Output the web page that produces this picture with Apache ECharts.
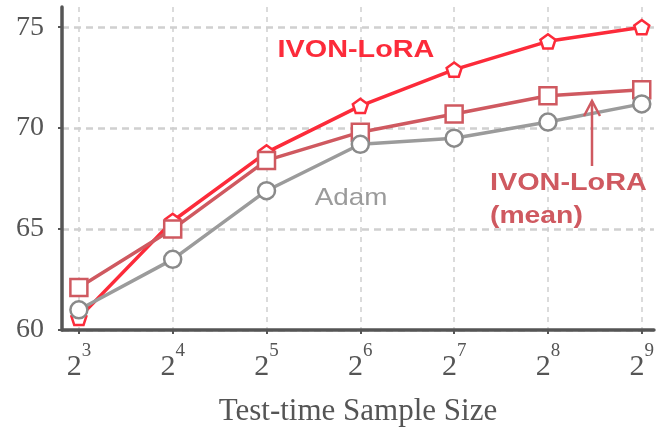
<!DOCTYPE html>
<html>
<head>
<meta charset="utf-8">
<script src="https://cdn.jsdelivr.net/npm/echarts@6/dist/echarts.min.js"></script>
<style>
html,body{margin:0;padding:0;background:#fff;}
#chart{width:657px;height:432px;}
</style>
</head>
<body>
<div id="chart"></div>
<script>
// exponents of 2 for test-time sample size
var exponents = [3, 4, 5, 6, 7, 8, 9];
var ivonLora = [60.6, 65.4, 68.8, 71.1, 72.9, 74.3, 75.0];
var ivonLoraMean = [62.1, 65.0, 68.4, 69.8, 70.7, 71.6, 71.9];
var adam = [61.0, 63.5, 66.9, 69.2, 69.5, 70.3, 71.2];
var yTicks = [60, 65, 70, 75];

function pairs(ys) { return exponents.map(function (e, i) { return [e, ys[i]]; }); }

var RED = '#fc2b3a';
var MEAN = '#cf5960';
var GRAY = '#9b9b9b';
var pentagon = 'path://M0,-10 L9.51,-3.09 L5.88,8.09 L-5.88,8.09 L-9.51,-3.09 Z';

var chart = echarts.init(document.getElementById('chart'), null, {renderer: 'canvas'});
chart.setOption({
  animation: false,
  backgroundColor: '#fff',
  grid: {left: 62, right: 2, top: 7, bottom: 100, containLabel: false},
  xAxis: {
    type: 'value',
    min: 2.82, max: 9.13,
    name: 'Test-time Sample Size',
    nameLocation: 'middle',
    nameGap: 66,
    nameTextStyle: {fontFamily: 'Liberation Serif', fontSize: 31, color: '#555'},
    axisLine: {show: true, onZero: false, lineStyle: {color: '#555', width: 3.5}},
    axisTick: {show: true, customValues: exponents, length: 4, inside: false, lineStyle: {color: '#555', width: 2}},
    axisLabel: {
      customValues: exponents,
      margin: 12,
      formatter: function (v) { return '{b|2}{s|' + v + '}'; },
      rich: {
        b: {fontFamily: 'Liberation Serif', fontSize: 30, color: '#555', lineHeight: 40, verticalAlign: 'bottom'},
        s: {fontFamily: 'Liberation Serif', fontSize: 19, color: '#555', lineHeight: 20, verticalAlign: 'top'}
      }
    },
    splitLine: {show: true, lineStyle: {color: '#d0d0d0', width: 1.5, type: [5, 5]}}
  },
  yAxis: {
    type: 'value',
    min: 60, max: 76, interval: 5,
    axisLine: {show: true, lineStyle: {color: '#555', width: 3.5}},
    axisTick: {show: true, customValues: yTicks, length: 4, lineStyle: {color: '#555', width: 2}},
    axisLabel: {customValues: yTicks, margin: 18, fontFamily: 'Liberation Serif', fontSize: 28, color: '#555'},
    splitLine: {show: true, lineStyle: {color: '#d0d0d0', width: 2.5, type: [7, 5]}}
  },
  series: [
    {
      name: 'IVON-LoRA', type: 'line', data: pairs(ivonLora),
      lineStyle: {color: RED, width: 3.5}, symbol: pentagon, symbolKeepAspect: true, symbolSize: 15,
      itemStyle: {color: '#fff', borderColor: RED, borderWidth: 2.5}, z: 2
    },
    {
      name: 'IVON-LoRA (mean)', type: 'line', data: pairs(ivonLoraMean),
      lineStyle: {color: MEAN, width: 3.5}, symbol: 'rect', symbolSize: 17,
      itemStyle: {color: '#fff', borderColor: MEAN, borderWidth: 2.5}, z: 3
    },
    {
      name: 'Adam', type: 'line', data: pairs(adam),
      lineStyle: {color: GRAY, width: 3.5}, symbol: 'circle', symbolSize: 17,
      itemStyle: {color: '#fff', borderColor: '#8a8a8a', borderWidth: 2.5}, z: 4
    }
  ],
  graphic: [
    {type: 'text', x: 356, y: 50, scaleX: 1.2, z: 10,
      style: {text: 'IVON-LoRA', fontFamily: 'Liberation Sans', fontWeight: 'bold', fontSize: 24, fill: RED, align: 'center', verticalAlign: 'middle'}},
    {type: 'text', x: 351, y: 198, scaleX: 1.16, z: 10,
      style: {text: 'Adam', fontFamily: 'Liberation Sans', fontSize: 24, fill: GRAY, align: 'center', verticalAlign: 'middle'}},
    {type: 'text', x: 490, y: 183, scaleX: 1.2, z: 10,
      style: {text: 'IVON-LoRA', fontFamily: 'Liberation Sans', fontWeight: 'bold', fontSize: 24, fill: MEAN, align: 'left', verticalAlign: 'middle'}},
    {type: 'text', x: 490, y: 216, scaleX: 1.18, z: 10,
      style: {text: '(mean)', fontFamily: 'Liberation Sans', fontWeight: 'bold', fontSize: 24, fill: MEAN, align: 'left', verticalAlign: 'middle'}},
    {type: 'line', z: 10, shape: {x1: 592, y1: 166, x2: 592, y2: 101}, style: {stroke: MEAN, lineWidth: 2.5}},
    {type: 'polyline', z: 10, shape: {points: [[584, 116], [592, 101], [600, 116]]}, style: {stroke: MEAN, lineWidth: 2.5, fill: null}}
  ]
});
</script>
</body>
</html>
